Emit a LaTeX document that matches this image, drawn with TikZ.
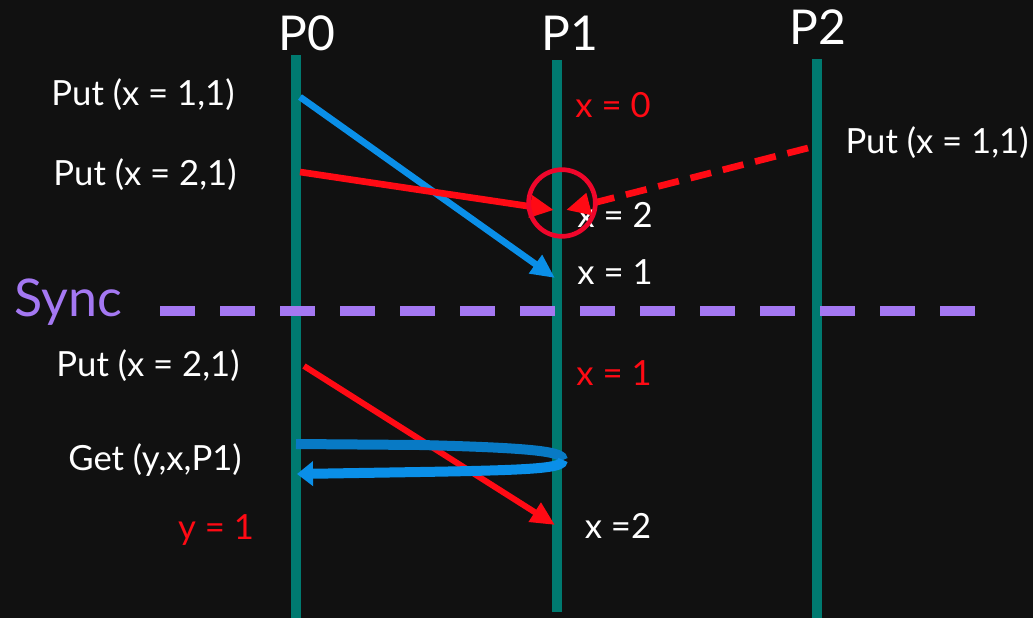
\documentclass[tikz,border=0pt]{standalone}
\usepackage{fontspec}
\setmainfont{Lato}
\usetikzlibrary{arrows.meta}
\definecolor{bg}{HTML}{111111}
\definecolor{teal}{HTML}{007A70}
\definecolor{ablue}{HTML}{0A8FE8}
\definecolor{ared}{HTML}{FF0A14}
\definecolor{cred}{HTML}{F0062B}
\definecolor{apurple}{HTML}{A478F2}
\begin{document}
\begin{tikzpicture}[x=0.75pt,y=-0.75pt,
  lifeline/.style={teal,line width=7.5pt},
  lbl/.style={text=white,font=\fontsize{26}{30}\selectfont,inner sep=0pt},
  rlbl/.style={text=ared,font=\fontsize{26}{30}\selectfont,inner sep=0pt},
  proc/.style={text=white,font=\fontsize{36}{40}\selectfont,inner sep=0pt},
  msg/.style={line width=5pt,-{Triangle[length=18pt,width=16pt]}},
]
\fill[bg] (0,0) rectangle (1033,618);
\useasboundingbox (0,0) rectangle (1033,618);
% lifelines
\coordinate (p0t) at (296,55); \coordinate (p0b) at (296,618);
\coordinate (p1t) at (557,60); \coordinate (p1b) at (557,612);
\coordinate (p2t) at (817,59); \coordinate (p2b) at (817,618);
\draw[lifeline] (p0t) -- (p0b);
\draw[lifeline] (p1t) -- (p1b);
\draw[lifeline] (p2t) -- (p2b);
\node[proc] (P0) at (307,33) {P0};
\node[proc] (P1) at (570,33) {P1};
\node[proc] (P2) at (818,27) {P2};
% labels
\node[lbl] (put1) at (143,95) {Put (x = 1,1)};
\node[lbl] (put2) at (145,175) {Put (x = 2,1)};
\node[lbl] (put3) at (937,143) {Put (x = 1,1)};
\node[rlbl] (x0) at (613,105) {x = 0};
\node[lbl] (x2a) at (615,215) {x = 2};
\node[lbl] (x1a) at (615,272) {x = 1};
\node[text=apurple,font=\fontsize{39}{44}\selectfont,inner sep=0pt] (sync) at (68,302) {Sync};
\node[lbl] (put4) at (148,366) {Put (x = 2,1)};
\node[rlbl] (x1b) at (614,373) {x = 1};
\node[lbl] (get) at (155,460) {Get (y,x,P1)};
\node[rlbl] (y1) at (216,530) {y = 1};
\node[lbl] (x2b) at (618,526) {x =2};
% coordinates for messages
\coordinate (a1s) at (300,97);  \coordinate (a1e) at (555,278);
\coordinate (a2s) at (300,172); \coordinate (a2e) at (554,210);
\coordinate (a3s) at (808,148); \coordinate (a3e) at (566,210);
\coordinate (a4s) at (304,366); \coordinate (a4e) at (555,525);
\coordinate (gs) at (296,444); \coordinate (gm) at (563,460); \coordinate (ge) at (297,474);
\coordinate (sy1) at (160,311); \coordinate (sy2) at (975,311);
% sync line
\draw[apurple,line width=7.5pt,dash pattern=on 26pt off 19pt] (sy1) -- (sy2);
% messages
\draw[msg,ablue] (a1s) -- (a1e);
\draw[msg,ared] (a2s) -- (a2e);
\draw[msg,ared,dash pattern=on 16pt off 9pt] (a3s) -- (a3e);
\draw[cred,line width=3.5pt] (562,203) circle (25pt);
\draw[msg,ared,line width=4.5pt] (a4s) -- (a4e);
\draw[ablue!85!black,line width=7.5pt] (gs) -- (420,445) .. controls (540,448) and (563,452) .. (gm);
\draw[msg,ablue,line width=7.5pt,-{Triangle[length=12pt,width=18pt]}] (gm) .. controls (563,468) and (540,470) .. (420,472) -- (ge);
\end{tikzpicture}
\end{document}
